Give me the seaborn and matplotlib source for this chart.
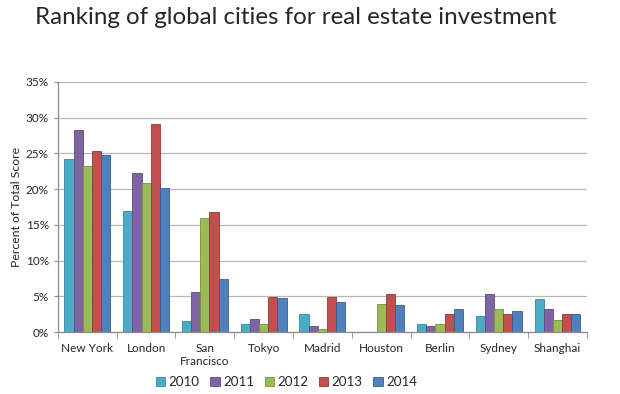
import matplotlib
matplotlib.use("Agg")
import matplotlib.pyplot as plt
import seaborn as sns
import pandas as pd
import numpy as np
from matplotlib.ticker import PercentFormatter, FixedLocator

cities = ["New York", "London", "San\nFrancisco", "Tokyo", "Madrid", "Houston", "Berlin", "Sydney", "Shanghai"]
years = ["2010", "2011", "2012", "2013", "2014"]
v2010 = [24.2, 16.9, 1.5, 1.2, 2.5, np.nan, 1.2, 2.2, 4.6]
v2011 = [28.3, 22.2, 5.6, 1.9, 0.8, np.nan, 0.8, 5.3, 3.2]
v2012 = [23.3, 20.9, 16.0, 1.2, 0.4, 4.0, 1.2, 3.2, 1.7]
v2013 = [25.4, 29.1, 16.8, 4.9, 4.9, 5.3, 2.5, 2.5, 2.5]
v2014 = [24.8, 20.1, 7.4, 4.8, 4.2, 3.8, 3.2, 3.0, 2.6]
colors = ["#4BACC6", "#8064A2", "#9BBB59", "#C0504D", "#4F81BD"]
edges = ["#2f8aa3", "#5f4a7d", "#76933c", "#943634", "#365f91"]

rows = []
for y, vals in zip(years, [v2010, v2011, v2012, v2013, v2014]):
    for c, v in zip(cities, vals):
        rows.append({"city": c, "year": y, "value": v})
df = pd.DataFrame(rows)

sns.set_style("white")
plt.rcParams['font.family'] = ['Lato', 'DejaVu Sans']

fig = plt.figure(figsize=(6.2, 3.94), dpi=100)
ax = fig.add_axes([0.0935, 0.157, 0.853, 0.635])
sns.barplot(data=df, x="city", y="value", hue="year", palette=colors,
            order=cities, hue_order=years, width=0.78, gap=0, ax=ax,
            legend=False, errorbar=None, saturation=1)
for cont, ec in zip(ax.containers, edges):
    for p in cont.patches:
        p.set_edgecolor(ec)
        p.set_linewidth(0.6)

ax.set_ylim(0, 35)
ax.set_xlim(-0.5, len(cities) - 0.5)
ax.yaxis.set_major_locator(FixedLocator(np.arange(0, 36, 5)))
ax.yaxis.set_major_formatter(PercentFormatter(decimals=0))
ax.yaxis.grid(True, color="#b8b8b8", linewidth=0.9)
ax.set_axisbelow(True)
for s in ["top", "right"]:
    ax.spines[s].set_visible(False)
for s in ["left", "bottom"]:
    ax.spines[s].set_color("#8c8c8c")
    ax.spines[s].set_linewidth(0.9)
ax.set_xlabel("")
ax.set_ylabel("Percent of Total Score", fontsize=8.8, labelpad=3)
ax.tick_params(axis="x", length=0, labelsize=8.5, pad=8)
ax.tick_params(axis="y", length=3, color="#8c8c8c", labelsize=8.5, left=True)
ax.set_xticks(np.arange(-0.5, len(cities), 1), minor=True)
ax.tick_params(axis="x", which="minor", length=4, color="#8c8c8c", bottom=True)

fig.text(0.056, 0.955, "Ranking of global cities for real estate investment",
         fontsize=17.4, ha="left", va="center")

handles = [plt.Rectangle((0, 0), 1, 1, facecolor=c, edgecolor=e, linewidth=0.6) for c, e in zip(colors, edges)]
fig.legend(handles, years, loc="center", bbox_to_anchor=(0.462, 0.03), ncol=5,
           frameon=False, fontsize=9.6, handlelength=0.7, handleheight=0.7,
           handletextpad=0.25, columnspacing=0.8)

fig.savefig("out.png", dpi=100)
